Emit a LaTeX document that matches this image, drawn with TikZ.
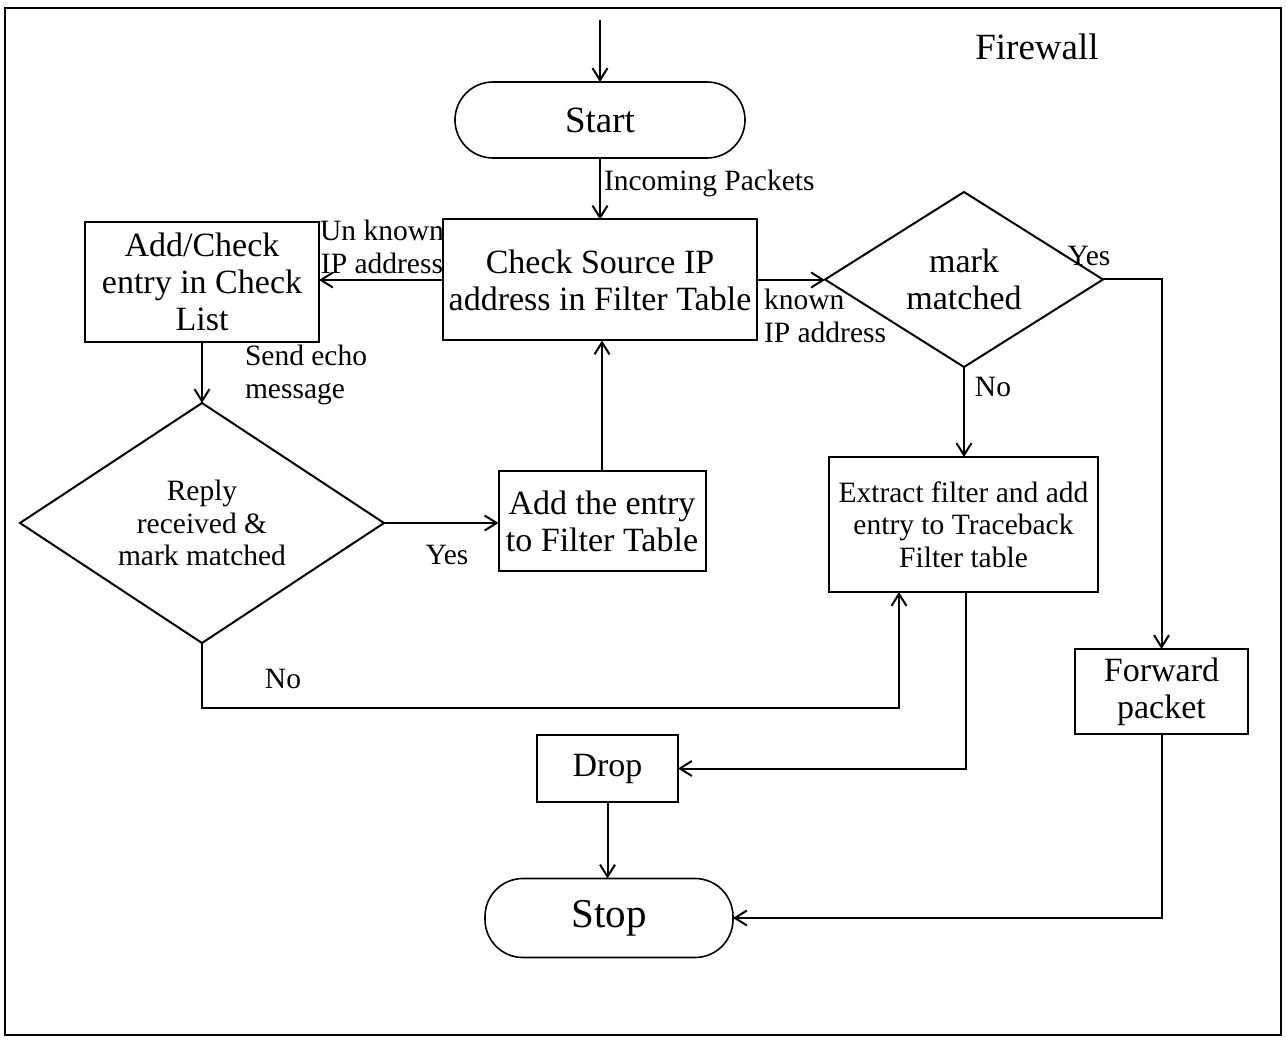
\documentclass[tikz,border=0pt]{standalone}
\usepackage{fontspec}
\setmainfont{Liberation Serif}
\usetikzlibrary{arrows.meta,shapes.geometric}

\begin{document}
\begin{tikzpicture}[x=1pt,y=-1pt,
  every node/.style={inner sep=0pt, outer sep=0pt},
  boxtext/.style={font=\fontsize{34}{37}\selectfont, align=center},
  smalltext/.style={font=\fontsize{29.5}{32.5}\selectfont, align=center},
  procbox/.style={draw, line width=2pt, rectangle},
  termbox/.style={draw, line width=1.6pt, rectangle, rounded corners=38pt},
  decision/.style={draw, line width=2pt, diamond},
  flow/.style={line width=2pt, -{Straight Barb[length=12pt,width=15pt]}},
  link/.style={line width=2pt}
]
\useasboundingbox (0,0) rectangle (1286,1040);

% frame
\draw[line width=2pt] (5,8) rectangle (1281,1035);
\node[font=\fontsize{37}{40}\selectfont] (title) at (1037,47) {Firewall};

% terminals
\node[termbox, minimum width=290pt, minimum height=76pt,
      font=\fontsize{37}{40}\selectfont] (start) at (600,120) {Start};
\node[termbox, minimum width=248pt, minimum height=79pt,
      font=\fontsize{41}{44}\selectfont] (stop) at (609,918) {Stop};

% process boxes
\node[procbox, boxtext, minimum width=314pt, minimum height=121pt] (check) at (600,280)
  {Check Source IP\\address in Filter Table};
\node[procbox, boxtext, minimum width=234pt, minimum height=120pt] (addchk) at (202,282)
  {Add/Check\\entry in Check\\List};
\node[procbox, boxtext, minimum width=207pt, minimum height=100pt] (addent) at (602,521)
  {Add the entry\\to Filter Table};
\node[procbox, smalltext, minimum width=269pt, minimum height=135pt] (extract) at (963.5,524.5)
  {Extract filter and add\\entry to Traceback\\Filter table};
\node[procbox, boxtext, minimum width=141pt, minimum height=67pt] (drop) at (607.5,768.5)
  {Drop};
\node[procbox, boxtext, minimum width=173pt, minimum height=85pt] (forward) at (1161.5,691.5)
  {Forward\\packet};

% decisions
\node[decision, minimum width=364pt, minimum height=240pt,
      label={[smalltext]center:{Reply\\received \&\\mark matched}}] (reply) at (202,523) {};
\node[decision, minimum width=278pt, minimum height=175pt,
      label={[boxtext]center:{mark\\matched}}] (mark) at (964,279.5) {};

% connectors
\coordinate (entry) at (600,20);
\draw[flow] (entry) -- (start.north);
\draw[flow] (start.south) -- (check.north);
\draw[flow] (check.west) -- (check.west -| addchk.east);
\draw[flow] (addchk.south) -- (reply.north);
\draw[flow] (reply.east) -- (reply.east -| addent.west);
\draw[flow] (addent.north) -- (addent.north |- check.south);
\draw[flow] (check.east) -- (check.east -| mark.west);
\draw[flow] (mark.east) -| (forward.north);
\draw[flow] (mark.south) -- (mark.south |- extract.north);
\coordinate (nobend) at (899,708);
\draw[flow] (reply.south) |- (nobend) -- (nobend |- extract.south);
\coordinate (dropdown) at (966,592);
\draw[flow] (dropdown) |- (drop.east);
\draw[flow] (drop.south) -- (drop.south |- stop.north);
\draw[flow] (forward.south) |- (stop.east);

% connector labels
\node[smalltext, anchor=west] (incoming) at (604,183) {Incoming Packets};
\node[smalltext] (unknown) at (382,247) {Un known\\IP address};
\node[smalltext, anchor=west, align=left] (known) at (764,316) {known\\IP address};
\node[smalltext, anchor=west, align=left] (echo) at (245,375) {Send echo\\message};
\node[smalltext] (replyyes) at (447,555) {Yes};
\node[smalltext] (replyno) at (283,679) {No};
\node[smalltext] (markyes) at (1089,256) {Yes};
\node[smalltext] (markno) at (993,387) {No};
\end{tikzpicture}
\end{document}
